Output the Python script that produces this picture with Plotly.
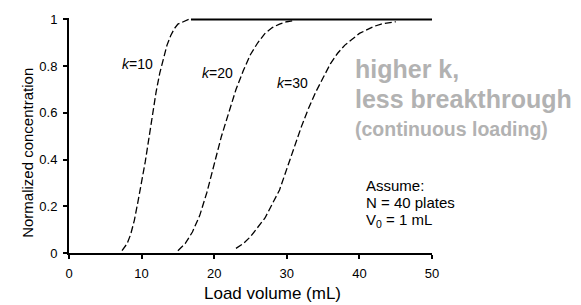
import plotly.graph_objects as go

# ---- data ----
k10_x = [7.3, 8.0, 8.5, 9.0, 9.5, 10.0, 10.5, 11.0, 11.5, 12.0, 12.5, 13.0, 13.5, 14.0, 14.5, 15.0, 15.7, 16.5]
k10_y = [0.01, 0.04, 0.08, 0.14, 0.22, 0.30, 0.39, 0.49, 0.60, 0.69, 0.77, 0.83, 0.89, 0.93, 0.96, 0.98, 0.99, 1.0]

k20_x = [15.0, 16.0, 17.0, 18.0, 19.0, 20.0, 21.0, 22.0, 23.0, 24.0, 25.0, 26.0, 27.0, 28.0, 29.0, 30.0, 31.0]
k20_y = [0.01, 0.04, 0.09, 0.16, 0.26, 0.38, 0.50, 0.60, 0.70, 0.78, 0.85, 0.90, 0.94, 0.965, 0.98, 0.99, 0.995]

k30_x = [23.0, 24.0, 25.0, 26.0, 27.0, 28.0, 29.0, 30.0, 31.0, 32.0, 33.0, 34.0, 35.0, 36.0, 37.0,
         38.0, 39.0, 40.0, 41.0, 42.0, 43.0, 44.0, 45.0]
k30_y = [0.02, 0.04, 0.07, 0.11, 0.15, 0.21, 0.27, 0.36, 0.45, 0.54, 0.62, 0.69, 0.75, 0.81, 0.855,
         0.89, 0.915, 0.94, 0.955, 0.97, 0.98, 0.985, 0.99]

plateau_x = [16.8, 50.0]
plateau_y = [1.0, 1.0]

x_ticks = [0, 10, 20, 30, 40, 50]
y_ticks = [0, 0.2, 0.4, 0.6, 0.8, 1.0]
y_tick_text = ["0", "0.2", "0.4", "0.6", "0.8", "1"]

# ---- layout geometry ----
W, H = 581, 305
ML, MR, MT, MB = 69, 149, 16, 52
XR = [0, 50]
YR = [0, 1.006]
PW = W - ML - MR
PH = H - MT - MB


def px2paper_x(px):
    return (px - ML) / PW


def px2paper_y(py):
    return (H - MB - py) / PH


FONT = "'Liberation Sans', Arial, sans-serif"
fig = go.Figure()

dash = "7px,3px"
for xs, ys in [(k10_x, k10_y), (k20_x, k20_y), (k30_x, k30_y)]:
    fig.add_trace(go.Scatter(x=xs, y=ys, mode="lines",
                             line=dict(color="black", width=1.3, dash=dash),
                             showlegend=False, hoverinfo="skip"))
fig.add_trace(go.Scatter(x=plateau_x, y=plateau_y, mode="lines",
                         line=dict(color="black", width=2),
                         showlegend=False, hoverinfo="skip"))

ann = []


def add_text(text, px, py, size, color="black", xanchor="center", angle=0):
    ann.append(dict(x=px2paper_x(px), y=px2paper_y(py), xref="paper", yref="paper", text=text,
                    showarrow=False, xanchor=xanchor, yanchor="middle",
                    textangle=angle, borderpad=0,
                    font=dict(family=FONT, size=size, color=color)))


add_text("<i>k</i>=10", 137, 62, 14)
add_text("<i>k</i>=20", 217, 71, 14)
add_text("<i>k</i>=30", 292, 82, 14)

gray = "#b2b2b2"
add_text("<b>higher k,</b>", 354, 67, 25, gray, "left")
add_text("<b>less breakthrough</b>", 354, 98, 25, gray, "left")
add_text("<b>(continuous loading)</b>", 354, 128, 19.5, gray, "left")

add_text("Assume:", 365, 185, 15, "black", "left")
add_text("N = 40 plates", 365, 202, 15, "black", "left")
add_text("V<sub>0</sub> = 1 mL", 365, 220, 15, "black", "left")

add_text("Load volume (mL)", 272, 294, 17)
add_text("Normalized concentration", 28, 152, 15, angle=-90)

fig.update_layout(
    width=W, height=H,
    margin=dict(l=ML, r=MR, t=MT, b=MB),
    paper_bgcolor="white", plot_bgcolor="white",
    font=dict(family=FONT, size=13, color="black"),
    annotations=ann,
    showlegend=False,
)
fig.update_xaxes(range=XR, tickvals=x_ticks, showgrid=False, zeroline=False,
                 showline=True, linecolor="black", linewidth=2,
                 ticks="outside", ticklen=4, tickwidth=1.5, tickcolor="black",
                 ticklabelstandoff=3, tickfont=dict(size=13))
fig.update_yaxes(range=YR, tickvals=y_ticks, ticktext=y_tick_text, showgrid=False, zeroline=False,
                 showline=True, linecolor="black", linewidth=2,
                 ticks="outside", ticklen=4, tickwidth=1.5, tickcolor="black",
                 ticklabelstandoff=3, tickfont=dict(size=13))

fig.write_html("out.html",
               config={"displayModeBar": False},
               post_script="document.body.style.margin='0';document.body.style.overflow='hidden';")
